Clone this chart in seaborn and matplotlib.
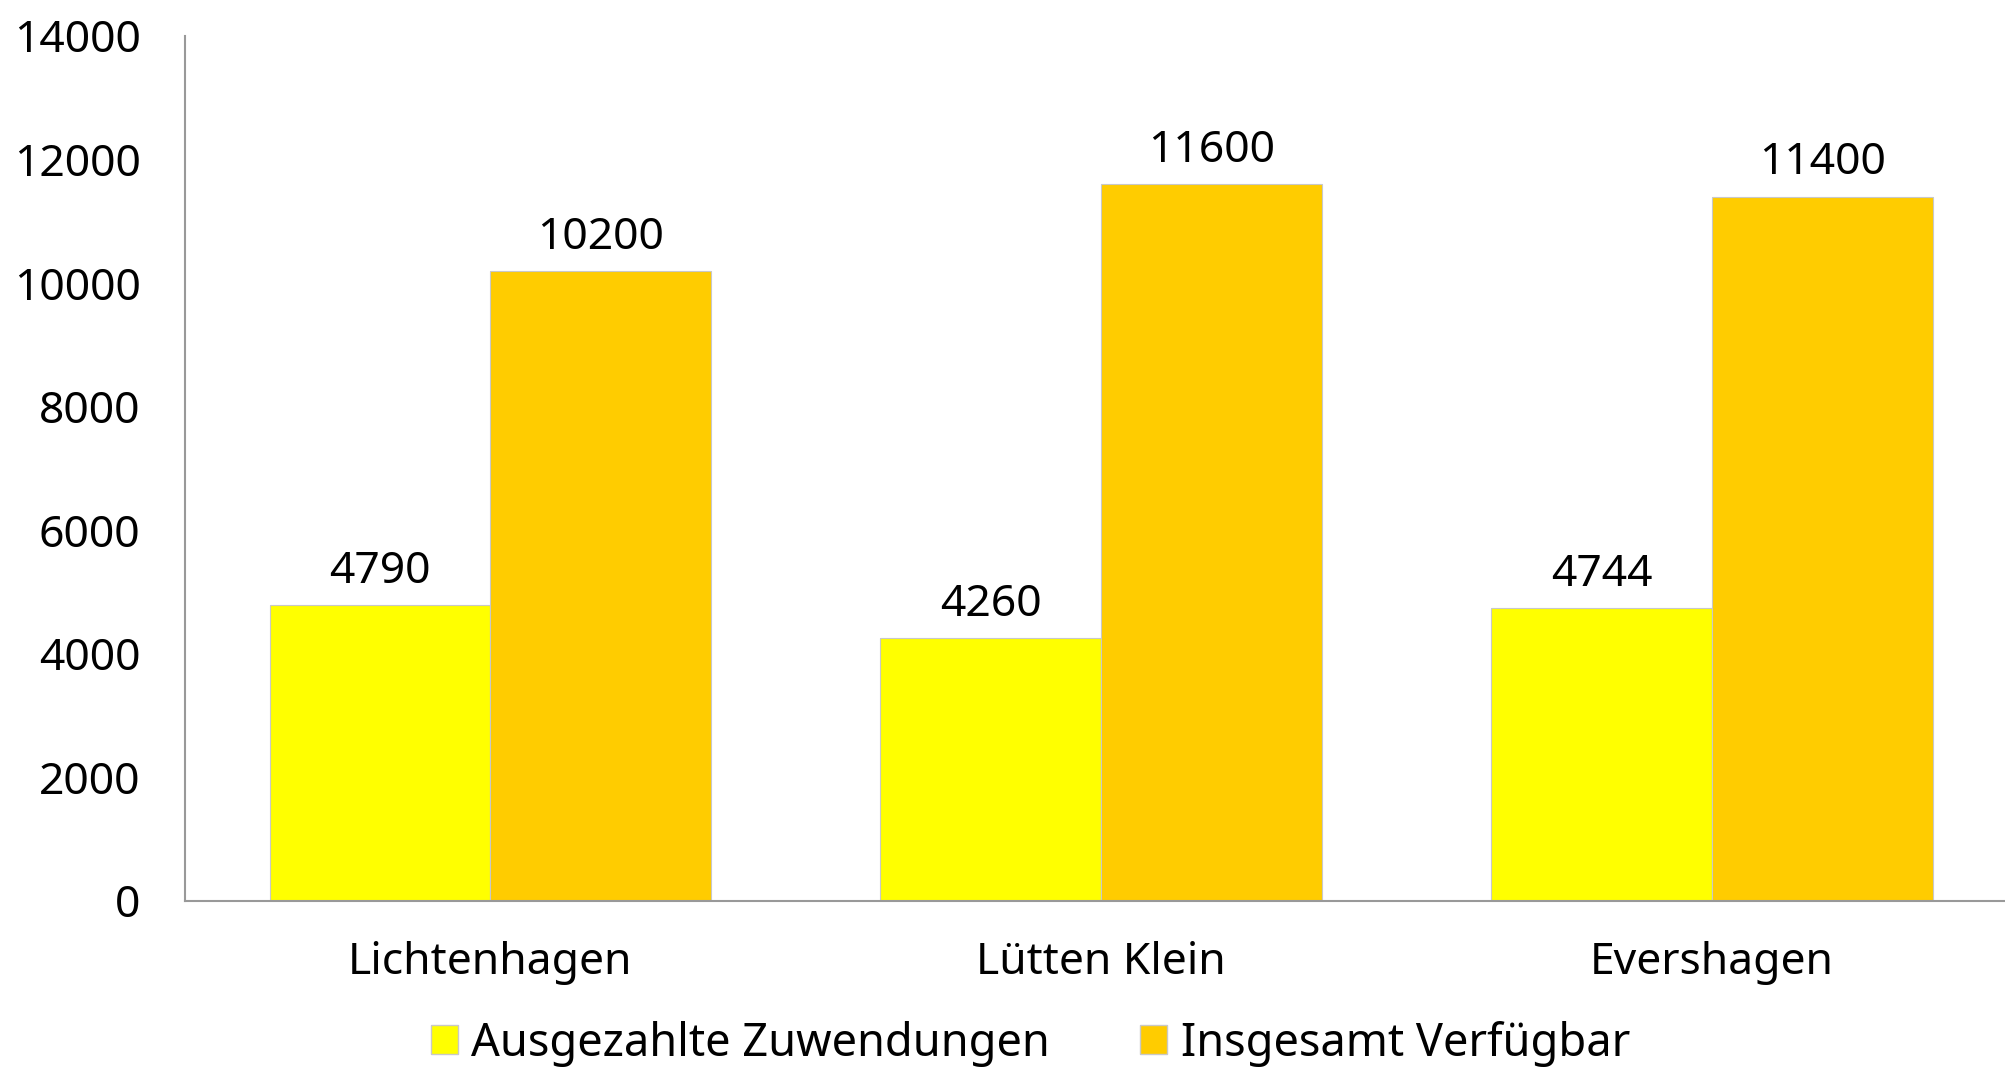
import pandas as pd
import matplotlib
matplotlib.use('Agg')
import matplotlib.pyplot as plt
import seaborn as sns

# data
stadtteile = ['Lichtenhagen', 'Lütten Klein', 'Evershagen']
ausgezahlt = [4790, 4260, 4744]
verfuegbar = [10200, 11600, 11400]
serien = ['Ausgezahlte Zuwendungen', 'Insgesamt Verfügbar']
farben = ['#FFFF00', '#FFCC00']

df = pd.DataFrame({
    'Stadtteil': stadtteile * 2,
    'Wert': ausgezahlt + verfuegbar,
    'Serie': [serien[0]] * 3 + [serien[1]] * 3,
})

sns.set_style('white')
plt.rcParams['font.family'] = ['Noto Sans', 'DejaVu Sans']
plt.rcParams['text.color'] = 'black'
plt.rcParams['xtick.color'] = 'black'
plt.rcParams['ytick.color'] = 'black'

fig = plt.figure(figsize=(20.05, 10.67), dpi=100)
ax = fig.add_axes([0.0923, 0.1556, 0.9077, 0.8107])

sns.barplot(data=df, x='Stadtteil', y='Wert', hue='Serie', order=stadtteile,
            hue_order=serien, palette=farben, width=0.723, gap=0,
            edgecolor='#c8c8c8', linewidth=0.8, saturation=1, ax=ax)

for cont in ax.containers:
    ax.bar_label(cont, fmt='%d', fontsize=32, padding=8, color='black')

ax.set_ylim(0, 14000)
ax.set_xlim(-0.5, 2.48)
ax.set_yticks(range(0, 14001, 2000))
ax.set_xlabel('')
ax.set_ylabel('')
ax.tick_params(axis='y', labelsize=32, length=0, pad=32)
ax.tick_params(axis='x', labelsize=32, length=0, pad=29)

sns.despine(ax=ax, top=True, right=True)
for s in ['left', 'bottom']:
    ax.spines[s].set_color('#999999')
    ax.spines[s].set_linewidth(1.5)

ax.get_legend().remove()
handles = [plt.Rectangle((0, 0), 1, 1, facecolor=c, edgecolor='#c8c8c8') for c in farben]
fig.legend(handles, serien, loc='center', bbox_to_anchor=(0.514, 0.022), ncol=2,
           frameon=False, fontsize=32.5, handlelength=0.6, handleheight=0.6,
           handletextpad=0.3, columnspacing=2.0)

fig.savefig('out.png', dpi=100)
